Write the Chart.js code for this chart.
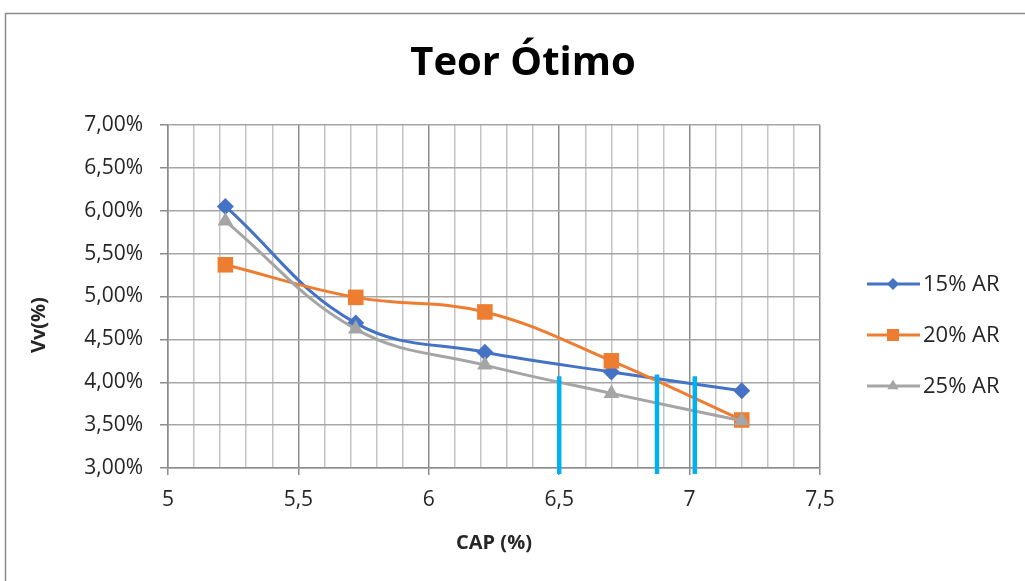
<!DOCTYPE html>
<html>
<head>
<meta charset="utf-8">
<script src="https://cdn.jsdelivr.net/npm/chart.js@4.4.1/dist/chart.umd.min.js"></script>
<style>
  html, body { margin: 0; padding: 0; background: #fff; }
</style>
</head>
<body>
<canvas id="myChart" width="1025" height="581"></canvas>
<script>
// data
var cap = [5.22, 5.72, 6.215, 6.70, 7.20];
var vv15 = [6.05, 4.69, 4.35, 4.12, 3.90];
var vv20 = [5.37, 4.99, 4.82, 4.25, 3.56];
var vv25 = [5.88, 4.62, 4.20, 3.87, 3.55];
var seriesNames = ['15% AR', '20% AR', '25% AR'];

// the three blue vertical marks
var markCap = [6.5, 6.875, 7.02];
var markTop = [4.07, 4.09, 4.07];
var markBottom = 2.93;

var majorX = [5, 5.5, 6, 6.5, 7, 7.5];

function pts(xs, ys) {
    return xs.map(function (x, i) { return { x: x, y: ys[i] }; });
}
function isMajor(v) {
    return majorX.some(function (m) { return Math.abs(m - v) < 1e-6; });
}

var datasets = [
    { label: seriesNames[0], data: pts(cap, vv15), borderColor: '#4472C4', backgroundColor: '#4472C4',
      pointStyle: 'rectRot', pointRadius: 8.5, legendRadius: 6, order: 3 },
    { label: seriesNames[1], data: pts(cap, vv20), borderColor: '#ED7D31', backgroundColor: '#ED7D31',
      pointStyle: 'rect', pointRadius: 11, legendRadius: 8.5, order: 2 },
    { label: seriesNames[2], data: pts(cap, vv25), borderColor: '#A5A5A5', backgroundColor: '#A5A5A5',
      pointStyle: 'triangle', pointRadius: 9, legendRadius: 6.5, order: 1 }
];
datasets.forEach(function (d) {
    d.showLine = true;
    d.borderWidth = 3;
    d.tension = 0.4;
    d.pointBorderWidth = 0;
    d.pointHoverRadius = d.pointRadius;
    d.inLegend = true;
});
markCap.forEach(function (x, i) {
    datasets.push({
        label: 'mark' + i,
        data: [{ x: x, y: markBottom }, { x: x, y: markTop[i] }],
        showLine: true, borderColor: '#00B0F0', borderWidth: 4.5,
        pointRadius: 0, tension: 0, order: 0, clip: false
    });
});

// frame around the whole chart
var framePlugin = {
    id: 'frame',
    beforeDraw: function (chart) {
        var c = chart.ctx;
        c.save();
        c.fillStyle = '#fff';
        c.fillRect(0, 0, chart.width, chart.height);
        c.strokeStyle = '#8c8c8c';
        c.lineWidth = 1.5;
        c.beginPath();
        c.moveTo(5.5, chart.height);
        c.lineTo(5.5, 13.5);
        c.lineTo(chart.width, 13.5);
        c.stroke();
        c.restore();
    }
};

// legend on the right: line + marker + text
var sideLegend = {
    id: 'sideLegend',
    afterDraw: function (chart) {
        var c = chart.ctx;
        var items = chart.data.datasets.filter(function (d) { return d.inLegend; });
        items.forEach(function (ds, i) {
            var y = 284 + i * 51;
            c.save();
            c.strokeStyle = ds.borderColor;
            c.lineWidth = 3;
            c.beginPath();
            c.moveTo(867, y);
            c.lineTo(920, y);
            c.stroke();
            c.fillStyle = ds.backgroundColor;
            Chart.helpers.drawPoint(c, { pointStyle: ds.pointStyle, radius: ds.legendRadius, borderWidth: 0, rotation: 0 }, 893, y);
            c.fillStyle = '#262626';
            c.font = '22px "Open Sans"';
            c.textBaseline = 'middle';
            c.textAlign = 'left';
            c.fillText(ds.label, 923, y + 1);
            c.restore();
        });
    }
};

var ctx = document.getElementById('myChart').getContext('2d');
var myChart = new Chart(ctx, {
    type: 'scatter',
    data: { datasets: datasets },
    plugins: [framePlugin, sideLegend],
    options: {
        responsive: false,
        animation: false,
        devicePixelRatio: 1,
        layout: { padding: { left: 21, right: 0, top: 0, bottom: 0 } },
        plugins: {
            legend: { display: false },
            tooltip: { enabled: false },
            title: {
                display: true,
                text: 'Teor Ótimo',
                color: '#000',
                font: { family: 'Open Sans', size: 40, weight: 'bold' },
                padding: { top: 40, bottom: 37 }
            }
        },
        scales: {
            x: {
                type: 'linear',
                min: 5, max: 7.5,
                afterFit: function (s) { s.height = 113; },
                ticks: {
                    stepSize: 0.1,
                    autoSkip: false,
                    maxRotation: 0,
                    padding: 12,
                    color: '#262626',
                    font: { family: 'Open Sans', size: 21 },
                    callback: function (v) {
                        return isMajor(v) ? String(Math.round(v * 10) / 10).replace('.', ',') : '';
                    }
                },
                grid: {
                    lineWidth: 1.5,
                    tickLength: 7,
                    color: function (c) { return c.tick && isMajor(c.tick.value) ? '#8c8c8c' : '#c4c4c4'; },
                    tickColor: function (c) { return c.tick && isMajor(c.tick.value) ? '#8c8c8c' : 'rgba(0,0,0,0)'; }
                },
                border: { color: '#8c8c8c', width: 1.5 },
                title: {
                    display: true,
                    text: 'CAP (%)',
                    color: '#262626',
                    font: { family: 'Open Sans', size: 20, weight: 'bold' },
                    padding: { top: 0, bottom: 26 }
                }
            },
            y: {
                min: 3, max: 7,
                afterFit: function (s) { s.width = 147; },
                ticks: {
                    stepSize: 0.5,
                    padding: 17,
                    color: '#262626',
                    font: { family: 'Open Sans', size: 21 },
                    callback: function (v) { return v.toFixed(2).replace('.', ',') + '%'; }
                },
                grid: { lineWidth: 1.5, tickLength: 8, color: '#a6a6a6', tickColor: '#8c8c8c' },
                border: { color: '#8c8c8c', width: 1.5 },
                title: {
                    display: true,
                    // trailing spaces push the rotated title a little lower, as in the original
                    text: 'Vv(%)           ',
                    color: '#262626',
                    font: { family: 'Open Sans', size: 20, weight: 'bold' },
                    padding: { top: 6, bottom: 0 }
                }
            },
            yRight: {
                position: 'right',
                display: true,
                afterFit: function (s) { s.width = 205; },
                ticks: { display: false },
                grid: { display: false, drawOnChartArea: false },
                border: { display: false }
            }
        }
    }
});
</script>
</body>
</html>
